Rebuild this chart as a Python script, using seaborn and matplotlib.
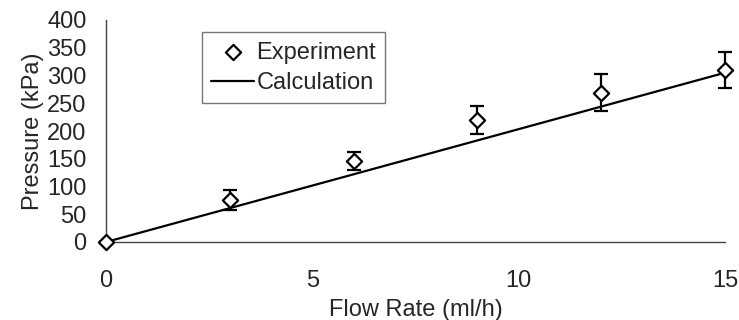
import matplotlib
matplotlib.use("Agg")
import matplotlib.pyplot as plt
import seaborn as sns
import pandas as pd

flow_exp = [0, 3, 6, 9, 12, 15]
pressure_exp = [0, 75, 146, 220, 269, 310]
pressure_err = [0, 18, 17, 25, 33, 33]

flow_calc = [0, 15]
pressure_calc = [0, 305]

x_ticks = [0, 5, 10, 15]
y_ticks = [0, 50, 100, 150, 200, 250, 300, 350, 400]

sns.set_style("white")
plt.rcParams['font.family'] = ['Liberation Sans', 'DejaVu Sans']

FS = 17

fig = plt.figure(figsize=(7.39, 3.20), dpi=100)
ax = fig.add_axes([106/739, 1-242/320, (725-106)/739, (242-20)/320])

exp_df = pd.DataFrame({"flow": flow_exp, "pressure": pressure_exp})
calc_df = pd.DataFrame({"flow": flow_calc, "pressure": pressure_calc})

ax.errorbar(flow_exp, pressure_exp, yerr=pressure_err, fmt="none",
            ecolor="black", elinewidth=1.6, capsize=5, capthick=1.6,
            clip_on=False, zorder=4)
sns.scatterplot(data=exp_df, x="flow", y="pressure", ax=ax, marker="D",
                s=60, facecolor="white", edgecolor="black", linewidth=1.6,
                label="Experiment", clip_on=False, zorder=5)
sns.lineplot(data=calc_df, x="flow", y="pressure", ax=ax, color="black",
             linewidth=1.6, label="Calculation", clip_on=False, zorder=3)

ax.set_xlim(0, 15)
ax.set_ylim(0, 400)
ax.set_xticks(x_ticks)
ax.set_yticks(y_ticks)
ax.set_xlabel("Flow Rate (ml/h)", fontsize=FS, labelpad=5)
ax.set_ylabel("Pressure (kPa)", fontsize=FS, labelpad=2)

for s in ["top", "right"]:
    ax.spines[s].set_visible(False)
for s in ["left", "bottom"]:
    ax.spines[s].set_color("#444444")
    ax.spines[s].set_linewidth(1.0)

ax.tick_params(axis="x", direction="in", length=7, width=1.0, color="#444444",
               labelsize=FS, pad=20)
ax.tick_params(axis="y", direction="in", length=7, width=1.0, color="#444444",
               labelsize=FS, pad=14)

handles, labels = ax.get_legend_handles_labels()
order = [labels.index("Experiment"), labels.index("Calculation")]
leg = ax.legend([handles[i] for i in order], [labels[i] for i in order],
                loc="upper left", bbox_to_anchor=(0.155, 0.945), fontsize=FS,
                frameon=True, fancybox=False, edgecolor="#555555",
                handlelength=1.8, handletextpad=0.1, borderpad=0.4,
                labelspacing=0.35, borderaxespad=0)
leg.get_frame().set_linewidth(1.0)

fig.savefig("out.png", dpi=100)
